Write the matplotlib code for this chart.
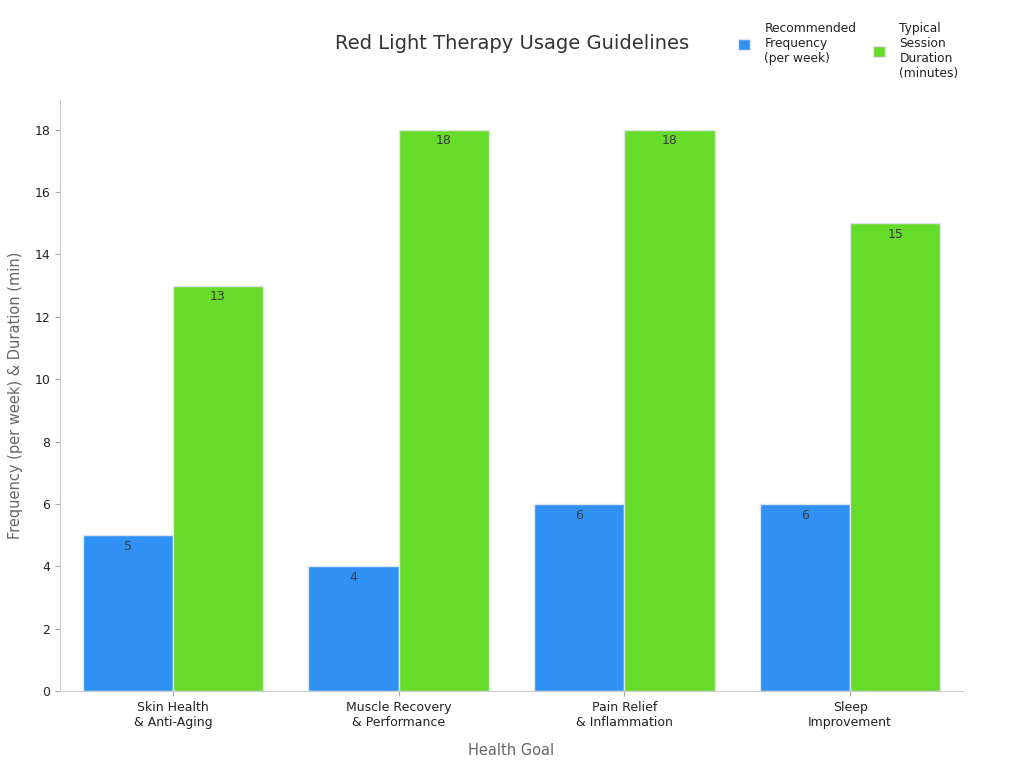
import matplotlib
matplotlib.use("Agg")
import matplotlib.pyplot as plt
import numpy as np

categories = ["Skin Health\n& Anti-Aging", "Muscle Recovery\n& Performance", "Pain Relief\n& Inflammation", "Sleep\nImprovement"]
frequency = [5, 4, 6, 6]
duration = [13, 18, 18, 15]
series_names = ["Recommended\nFrequency\n(per week)", "Typical\nSession\nDuration\n(minutes)"]
colors = ["#3091f5", "#66db29"]

fig = plt.figure(figsize=(10.24, 7.68), dpi=100)
ax = fig.add_axes([60/1024, 77/768, 903/1024, 591/768])

x = np.arange(len(categories))
w = 0.4
b1 = ax.bar(x - w/2, frequency, w, color=colors[0], edgecolor="#dde6f0", linewidth=1, label=series_names[0])
b2 = ax.bar(x + w/2, duration, w, color=colors[1], edgecolor="#dde6f0", linewidth=1, label=series_names[1])

for bars, vals in ((b1, frequency), (b2, duration)):
    for r, v in zip(bars, vals):
        ax.text(r.get_x() + r.get_width()/2, v - 0.15, str(v), ha="center", va="top",
                fontsize=9, color="#3a3a3a")

ax.set_xlim(-0.5, 3.5)
ax.set_ylim(0, 18.95)
ax.set_yticks(range(0, 19, 2))
ax.set_xticks(x)
ax.set_xticklabels(categories, fontsize=9, color="#222222")
ax.tick_params(axis="y", labelsize=9, labelcolor="#222222", color="#aaaaaa")
ax.tick_params(axis="x", color="#aaaaaa")
for s in ("top", "right"):
    ax.spines[s].set_visible(False)
for s in ("left", "bottom"):
    ax.spines[s].set_color("#cccccc")

ax.set_xlabel("Health Goal", fontsize=10.5, color="#666666", labelpad=10)
ax.set_ylabel("Frequency (per week) & Duration (min)", fontsize=10.5, color="#666666", labelpad=8)

fig.text(0.5, 0.944, "Red Light Therapy Usage Guidelines", ha="center", va="center", fontsize=14, color="#333333")

common = dict(loc="upper left", frameon=False, fontsize=8.8, handlelength=1.0, handleheight=1.0,
              handletextpad=1.15, labelcolor="#222222", borderpad=0, borderaxespad=0)
leg1 = fig.legend(handles=[b1], labels=[series_names[0]], bbox_to_anchor=(738/1024, 1 - 22/768), **common)
leg2 = fig.legend(handles=[b2], labels=[series_names[1]], bbox_to_anchor=(873/1024, 1 - 22/768), **common)

fig.savefig("out.png", dpi=100)
